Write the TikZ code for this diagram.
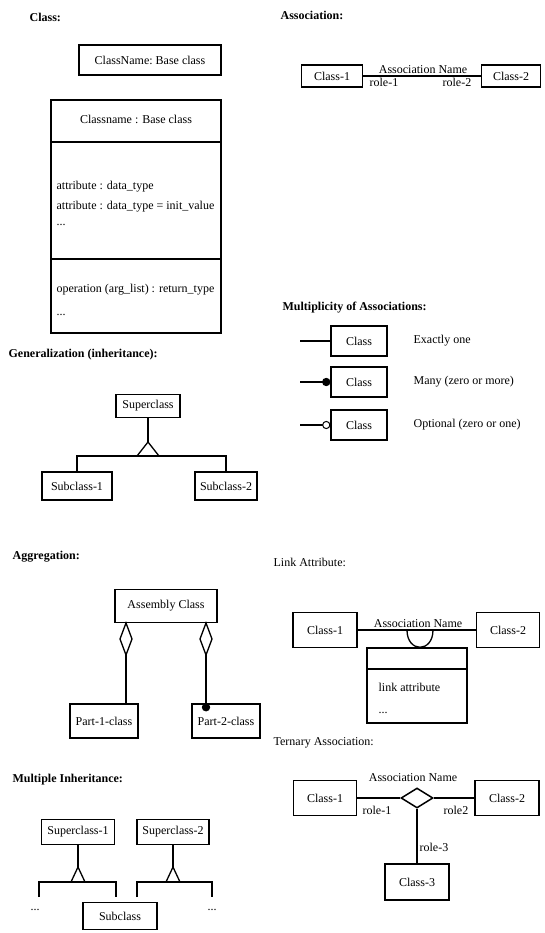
\documentclass[tikz,border=0pt]{standalone}
\usepackage{fontspec}
\setmainfont{Liberation Serif}
\usetikzlibrary{shapes.geometric}
\begin{document}
\begin{tikzpicture}[x=1pt,y=-1pt, line width=1.3pt,
  font=\fontsize{12}{14}\selectfont,
  cls/.style={draw, rectangle, inner sep=0pt, line width=1.5pt},
  ttl/.style={anchor=west, inner sep=0pt, font=\bfseries\fontsize{12}{14}\selectfont},
  lbl/.style={anchor=west, inner sep=0pt},
  txt/.style={inner sep=0pt}]
\useasboundingbox (0,0) rectangle (545,933);

% ---------- Class ----------
\node[ttl] (tclass) at (29,17) {Class:};
\node[cls, minimum width=142pt, minimum height=30pt] (cn) at (150,60) {ClassName:\ Base class};
\node[cls, minimum width=170pt, minimum height=233pt] (cbox) at (136,216.5) {};
\coordinate (cl1) at (51,142);
\coordinate (cl2) at (51,259);
\draw (cl1) -- (cl1 -| cbox.east);
\draw (cl2) -- (cl2 -| cbox.east);
\node[txt] (chead) at (136,119) {Classname : Base class};
\node[lbl] (ca1) at (56,187) {attribute : data\_type};
\node[lbl] (ca2) at (56,207) {attribute : data\_type = init\_value};
\node[lbl] (ca3) at (56,225) {...};
\node[lbl] (co1) at (56,290) {operation (arg\_list) : return\_type};
\node[lbl] (co2) at (56,315) {...};

% ---------- Association ----------
\node[ttl] (tassoc) at (280,15) {Association:};
\node[cls, minimum width=61pt, minimum height=22pt] (a1) at (332,76) {Class-1};
\node[cls, minimum width=59pt, minimum height=22pt] (a2) at (511,76) {Class-2};
\draw (a1) -- (a2);
\node[txt, anchor=base] (aname) at (423,74) {Association Name};
\node[lbl] (ar1) at (369,82) {role-1};
\node[lbl] (ar2) at (442,82) {role-2};

% ---------- Multiplicity ----------
\node[ttl] (tmult) at (282,308) {Multiplicity of Associations:};
\node[cls, minimum width=56pt, minimum height=30pt] (m1) at (359,341) {Class};
\node[cls, minimum width=56pt, minimum height=30pt] (m2) at (359,382) {Class};
\node[cls, minimum width=56pt, minimum height=30pt] (m3) at (359,425) {Class};
\coordinate (me1) at (300,341);
\coordinate (me2) at (300,382);
\coordinate (me3) at (300,425);
\draw (me1) -- (m1);
\draw (me2) -- (m2);
\draw (me3) -- (m3);
\fill ([xshift=-4pt]m2.west) circle (4.2pt);
\draw[fill=white, line width=1pt] ([xshift=-4pt]m3.west) circle (3.6pt);
\node[lbl] (ml1) at (413,341) {Exactly one};
\node[lbl] (ml2) at (413,382) {Many (zero or more)};
\node[lbl] (ml3) at (413,425) {Optional (zero or one)};

% ---------- Generalization ----------
\node[ttl] (tgen) at (8,355) {Generalization (inheritance):};
\node[cls, minimum width=64pt, minimum height=23pt] (gsup) at (148,406) {Superclass};
\node[cls, minimum width=70pt, minimum height=28pt] (gs1) at (77,486) {Subclass-1};
\node[cls, minimum width=62pt, minimum height=28pt] (gs2) at (226,486) {Subclass-2};
\coordinate (gapex) at (148,442);
\coordinate (gbar) at (148,456);
\draw (gsup) -- (gapex);
\draw (gapex) -- ++(-11,14) -- ++(22,0) -- cycle;
\draw (gs1.north) |- (gbar) -| (gs2.north);

% ---------- Aggregation ----------
\node[ttl] (tagg) at (12,557) {Aggregation:};
\node[cls, minimum width=102pt, minimum height=33pt] (asm) at (166,606) {Assembly Class};
\node[cls, minimum width=68pt, minimum height=34pt] (p1) at (104,721) {Part-1-class};
\node[cls, minimum width=68pt, minimum height=34pt] (p2) at (226,721) {Part-2-class};
\coordinate (ad1) at (126,623);
\coordinate (ad1b) at (126,655);
\coordinate (ad2) at (206,623);
\coordinate (ad2b) at (206,655);
\draw (ad1) -- ++(6,16) -- ++(-6,16) -- ++(-6,-16) -- cycle;
\draw (ad2) -- ++(6,16) -- ++(-6,16) -- ++(-6,-16) -- cycle;
\draw (ad1b) -- (ad1b |- p1.north);
\draw (ad2b) -- (ad2b |- p2.north);
\fill ([yshift=-4pt]ad2b |- p2.north) circle (4.2pt);

% ---------- Link Attribute ----------
\node[ttl, font=\fontsize{12}{14}\selectfont] (tlink) at (273,562) {Link Attribute:};
\node[cls, minimum width=64pt, minimum height=35pt] (l1) at (325,630) {Class-1};
\node[cls, minimum width=63pt, minimum height=35pt] (l2) at (508,630) {Class-2};
\draw (l1) -- (l2);
\node[txt, anchor=base] (lname) at (418,627) {Association Name};
\node[cls, minimum width=100pt, minimum height=75pt] (lbox) at (417,685.5) {};
\coordinate (ld) at (367,669);
\draw (ld) -- (ld -| lbox.east);
\coordinate (lc1) at (407,630);
\coordinate (lc2) at (433,630);
\draw (lc1) .. controls (407,653) and (433,653) .. (lc2);
\node[lbl] (lattr) at (378,687) {link attribute};
\node[lbl] (ldots) at (378,713) {...};

% ---------- Ternary ----------
\node[ttl, font=\fontsize{12}{14}\selectfont] (tter) at (273,743) {Ternary Association:};
\node[cls, minimum width=63pt, minimum height=35pt] (t1) at (325,798) {Class-1};
\node[cls, minimum width=64pt, minimum height=35pt] (t2) at (507,798) {Class-2};
\node[cls, minimum width=64pt, minimum height=36pt] (t3) at (417,882) {Class-3};
\node[draw, diamond, inner sep=0pt, minimum width=32pt, minimum height=20pt, line width=1.5pt] (td) at (417,798) {};
\draw (t1) -- (td.west);
\draw (td.east) -- (t2);
\draw (td.south) -- (t3.north);
\node[txt, anchor=base] (tname) at (413,781) {Association Name};
\node[lbl] (tr1) at (362,810) {role-1};
\node[lbl] (tr2) at (443,810) {role2};
\node[lbl] (tr3) at (419,847) {role-3};

% ---------- Multiple Inheritance ----------
\node[ttl] (tmi) at (12,780) {Multiple Inheritance:};
\node[cls, minimum width=73pt, minimum height=25pt] (ms1) at (78,832) {Superclass-1};
\node[cls, minimum width=72pt, minimum height=25pt] (ms2) at (173,832) {Superclass-2};
\node[cls, minimum width=74pt, minimum height=27pt] (msub) at (120,916) {Subclass};
\coordinate (mapex1) at (78,867);
\coordinate (mapex2) at (173,867);
\draw (ms1) -- (mapex1);
\draw (ms2) -- (mapex2);
\draw (mapex1) -- ++(-7,15) -- ++(14,0) -- cycle;
\draw (mapex2) -- ++(-7,15) -- ++(14,0) -- cycle;
\coordinate (mb1l) at (39,897);
\coordinate (mb1r) at (116,897);
\coordinate (mb2l) at (137,897);
\coordinate (mb2r) at (212,897);
\draw (mb1l) |- (82,882) -| (mb1r);
\draw (mb2l) |- (177,882) -| (mb2r);
\node[txt] (mdl) at (35,910) {...};
\node[txt] (mdr) at (212,910) {...};
\end{tikzpicture}
\end{document}
